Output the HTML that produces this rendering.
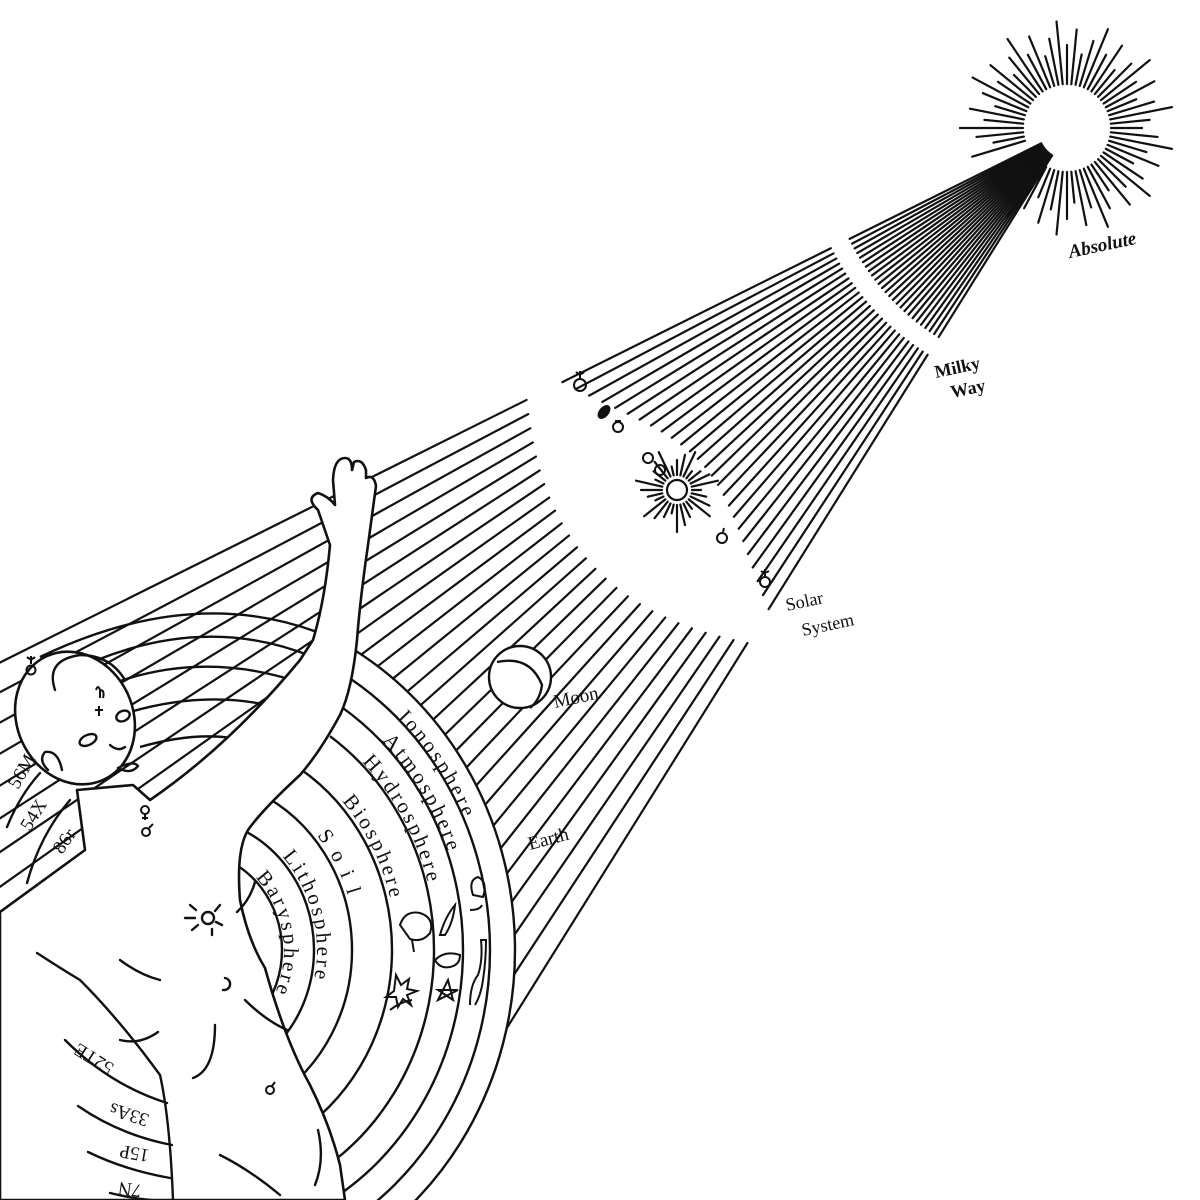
<!DOCTYPE html>
<html><head><meta charset="utf-8">
<style>
html,body{margin:0;padding:0;background:#fff;width:1200px;height:1200px;overflow:hidden;}
svg{display:block;}
text{font-family:"Liberation Serif",serif;fill:#111;}
</style></head>
<body>
<svg id="s" width="1200" height="1200" viewBox="0 0 1200 1200" xmlns="http://www.w3.org/2000/svg">
<rect width="1200" height="1200" fill="#fff"/>
<g id="rays" stroke="#111" stroke-width="2.2" stroke-linecap="round"></g>
<g id="headarcs" fill="none" stroke="#111" stroke-width="2.4">
  <path d="M40,657 Q190,585 317,632"/>
  <path d="M97,660 Q210,615 313,657"/>
  <path d="M117,682 Q210,650 307,685"/>
  <path d="M130,712 Q213,688 287,710"/>
  <path d="M140,747 Q207,728 253,743"/>
</g>
<g id="rings" fill="none" stroke="#111" stroke-width="2.4"></g>
<g id="ringtext" font-size="21" letter-spacing="3"></g>

<g stroke="#111" stroke-width="2.6" fill="#fff" stroke-linejoin="round">
  <path d="M0,912 L85,850 L77,790 L133,785 L150,800 Q230,745 300,660 L313,640 Q325,600 330,545 L318,510 Q305,498 318,493 Q328,496 335,505 L333,480 Q334,458 345,458 Q352,458 352,470 L354,462 Q362,458 366,470 L366,478 Q374,474 376,486 L368,545 Q360,600 357,640 Q352,690 340,715 Q320,752 300,775 Q262,810 248,830 Q236,850 240,900 Q248,940 265,968 Q285,1040 310,1085 Q330,1125 340,1165 L345,1200 L0,1200 Z"/>
  <ellipse cx="75" cy="718" rx="58" ry="68" transform="rotate(-25 75 718)"/>
</g>
<g stroke="#111" stroke-width="2.4" fill="none" stroke-linecap="round">
  <path d="M55,690 Q45,660 80,655 Q110,655 125,680"/>
  <ellipse cx="88" cy="740" rx="9" ry="5" transform="rotate(-25 88 740)"/>
  <ellipse cx="123" cy="716" rx="7" ry="5" transform="rotate(-25 123 716)"/>
  <path d="M110,745 Q118,752 125,747"/>
  <path d="M118,768 Q133,760 138,766 Q131,775 118,768"/>
  <path d="M48,770 Q38,760 45,752 Q58,750 62,770"/>
  <path d="M37,953 Q60,968 80,980 Q120,1020 160,1075 Q170,1120 173,1200"/>
  <path d="M120,960 Q140,975 160,980"/>
  <path d="M120,1040 Q140,1045 158,1032"/>
  <path d="M245,1000 Q265,1020 287,1030"/>
  <path d="M215,1025 Q215,1070 193,1078"/>
  <path d="M220,1155 Q250,1170 280,1195"/>
  <path d="M318,1130 Q325,1160 315,1185"/>
  <path d="M225,978 a6,6 0 1,1 -2,12"/>
  <circle cx="208" cy="918" r="6"/>
  <path d="M190,905 l6,5 M185,918 l10,0 M192,930 l6,-5 M220,905 l-5,6 M222,925 l-6,-3 M212,935 l0,-6"/>
  <path d="M237,912 Q250,900 255,882"/>
  <path d="M7,827 Q20,795 40,773"/>
  <path d="M27,883 Q40,835 70,800"/>
  <path d="M65,1040 Q110,1085 167,1103"/>
  <path d="M78,1106 Q120,1135 172,1145"/>
  <path d="M88,1152 Q125,1170 170,1178"/>
  <path d="M110,1193 Q130,1198 150,1200"/>
</g>
<g stroke="#111" stroke-width="2" fill="none">
  <circle cx="31" cy="670" r="4.5"/><path d="M31,664 v-8 M27,657 q4,4 8,0"/>
  <circle cx="145" cy="810" r="4"/><path d="M145,814 v6 M142,818 h6"/>
  <circle cx="146" cy="832" r="4"/><path d="M149,828 l4,-4"/>
  <circle cx="270" cy="1090" r="4"/><path d="M272,1086 l3,-4"/>
  <circle cx="580" cy="385" r="6"/><path d="M580,379 v-8 M576,372 q4,4 8,0"/>
  <ellipse cx="604" cy="412" rx="4" ry="7" transform="rotate(40 604 412)" fill="#111"/>
  <circle cx="618" cy="427" r="5"/><path d="M615,421 h6"/>
  <circle cx="648" cy="458" r="5"/><circle cx="660" cy="470" r="5"/>
  <circle cx="722" cy="538" r="5"/><path d="M723,532 l1,-4"/>
  <circle cx="765" cy="582" r="5"/><path d="M765,576 v-7 M761,571 q4,3 8,0"/>
  <path d="M96,690 q2,-6 4,0 v8 M100,690 q5,0 3,8"/>
  <path d="M99,706 v10 M95,710 h8"/>
</g>
<g id="suns" stroke="#111" stroke-width="2.2" stroke-linecap="round" fill="none"></g>
<circle cx="677" cy="490" r="10" fill="#fff" stroke="#111" stroke-width="2.2"/>
<circle cx="520" cy="677" r="31" fill="#fff" stroke="#111" stroke-width="2.4"/>
<path d="M497,662 Q530,655 542,685 Q540,700 530,708" fill="none" stroke="#111" stroke-width="2.4"/>
<g stroke="#111" stroke-width="2" fill="none">
  <path d="M400,925 q5,-15 20,-12 q15,5 10,20 q-8,10 -20,6 z M412,940 l2,12"/>
  <path d="M396,975 l5,10 l8,-6 l-2,10 l10,2 l-10,4 l4,10 l-8,-6 l-5,8 l-2,-10 l-10,0 l8,-6 z"/>
  <path d="M390,1010 q10,-8 22,-10"/>
  <path d="M440,935 q5,-18 15,-30 q-2,18 -10,30 z"/>
  <path d="M435,960 q10,-10 25,-5 q0,10 -10,12 q-10,2 -15,-7 z"/>
  <path d="M438,1000 l10,-20 l5,20 l-15,-10 l20,0 z"/>
  <path d="M473,895 q-5,-15 5,-18 q10,5 5,20 z M470,910 q10,0 12,-5"/>
  <path d="M470,1005 q0,-20 8,-30 q5,-15 3,-35 h5 q0,20 -3,40 q-2,15 -8,25"/>
</g>

<text x="1070" y="258" font-size="19" font-style="italic" font-weight="bold" transform="rotate(-12 1070 258)">Absolute</text>
<text x="936" y="378" font-size="18" font-weight="bold" transform="rotate(-12 936 378)">Milky</text>
<text x="952" y="398" font-size="18" font-weight="bold" transform="rotate(-12 952 398)">Way</text>
<text x="787" y="611" font-size="18" transform="rotate(-12 787 611)">Solar</text>
<text x="803" y="636" font-size="18" transform="rotate(-12 803 636)">System</text>
<text x="555" y="708" font-size="19" transform="rotate(-12 555 708)">Moon</text>
<text x="530" y="850" font-size="19" transform="rotate(-15 530 850)">Earth</text>
<text x="18" y="790" font-size="19" transform="rotate(-60 18 790)">56M</text>
<text x="30" y="832" font-size="19" transform="rotate(-58 30 832)">54X</text>
<text x="62" y="855" font-size="19" transform="rotate(-55 62 855)">86r</text>
<text x="115" y="1065" font-size="19" transform="rotate(212 115 1065)">52TE</text>
<text x="150" y="1115" font-size="19" transform="rotate(198 150 1115)">33As</text>
<text x="150" y="1150" font-size="19" transform="rotate(190 150 1150)">15P</text>
<text x="142" y="1185" font-size="19" transform="rotate(188 142 1185)">7N</text>
</svg>
<script>
(function(){
var NS="http://www.w3.org/2000/svg";
function el(p,t,a){var e=document.createElementNS(NS,t);for(var k in a)e.setAttribute(k,a[k]);p.appendChild(e);return e;}
var ax=1068,ay=130;
var cx=190,cy=950,k=1.07,R=325;
var rays=document.getElementById("rays");
var N=26,a0=153.5,a1=122;
for(var i=0;i<N;i++){
  var t=i/(N-1);var a=(a0+(a1-a0)*t)*Math.PI/180;
  var c=Math.cos(a),s=Math.sin(a);
  function seg(r1,r2){el(rays,"line",{x1:ax+c*r1,y1:ay+s*r1,x2:ax+c*r2,y2:ay+s*r2});}
  seg(30,244);
  var re=565-70*Math.sin(Math.PI*t);
  var rs=605+40*Math.sin(Math.PI*t);
  seg(265,re);
  var ry=R*k;
  var dx=(ax-cx)/R,dy=(ay-cy)/ry,ux=c/R,uy=s/ry;
  var A=ux*ux+uy*uy,B=2*(dx*ux+dy*uy),C=dx*dx+dy*dy-1;
  var D=B*B-4*A*C,end=1500;
  if(D>0){var r=(-B-Math.sqrt(D))/(2*A);if(r>rs && ax+c*r>345)end=r;}
  seg(rs,end);
}
var rxs=[[325,340],[300,340],[273,340],[244,330],[202,300],[162,258],[124,0],[92,0]];
var rings=document.getElementById("rings");
function P(rx,deg){var r=deg*Math.PI/180;return [cx+rx*Math.cos(r),cy-rx*k*Math.sin(r)];}
rxs.forEach(function(R2){
  var rx=R2[0];
  var st=R2[1]?Math.acos((R2[1]-cx)/rx)*180/Math.PI:100;
  var p=P(rx,st),q=P(rx,-60);
  el(rings,"path",{d:"M"+p[0]+","+p[1]+" A"+rx+","+(rx*k)+" 0 0 1 "+q[0]+","+q[1]});
});
var tg=document.getElementById("ringtext");
var defs=el(document.getElementById("s"),"defs",{});
var labels=[["Ionosphere",300,400],["Atmosphere",274,385],["Hydrosphere",246,365],["Biosphere",206,345],["S o i l",166,320],["Lithosphere",127,285],["Barysphere",94,258]];
labels.forEach(function(L,i){
  var rx=L[1];var st=Math.acos(Math.min(1,(L[2]-cx)/(rx+4)))*180/Math.PI;
  var p=P(rx,st),q=P(rx,-70);
  el(defs,"path",{id:"tp"+i,d:"M"+p[0]+","+p[1]+" A"+rx+","+(rx*k)+" 0 0 1 "+q[0]+","+q[1]});
  var t=el(tg,"text",{});var tp=el(t,"textPath",{href:"#tp"+i});
  tp.setAttributeNS("http://www.w3.org/1999/xlink","xlink:href","#tp"+i);
  tp.textContent=L[0];
});
var sg=document.getElementById("suns");
for(var j=0;j<64;j++){
  var a=j/64*2*Math.PI;var ang=a*180/Math.PI;
  if(ang>128&&ang<158)continue;
  var r2=75+((j*37)%5)*8;
  el(sg,"line",{x1:1067+Math.cos(a)*44,y1:128+Math.sin(a)*44,x2:1067+Math.cos(a)*r2,y2:128+Math.sin(a)*r2});
}
for(var j=0;j<28;j++){
  var a=j/28*2*Math.PI;var r2=24+((j*13)%4)*6;
  el(sg,"line",{x1:677+Math.cos(a)*15,y1:490+Math.sin(a)*15,x2:677+Math.cos(a)*r2,y2:490+Math.sin(a)*r2});
}
})();
</script>
</body></html>
